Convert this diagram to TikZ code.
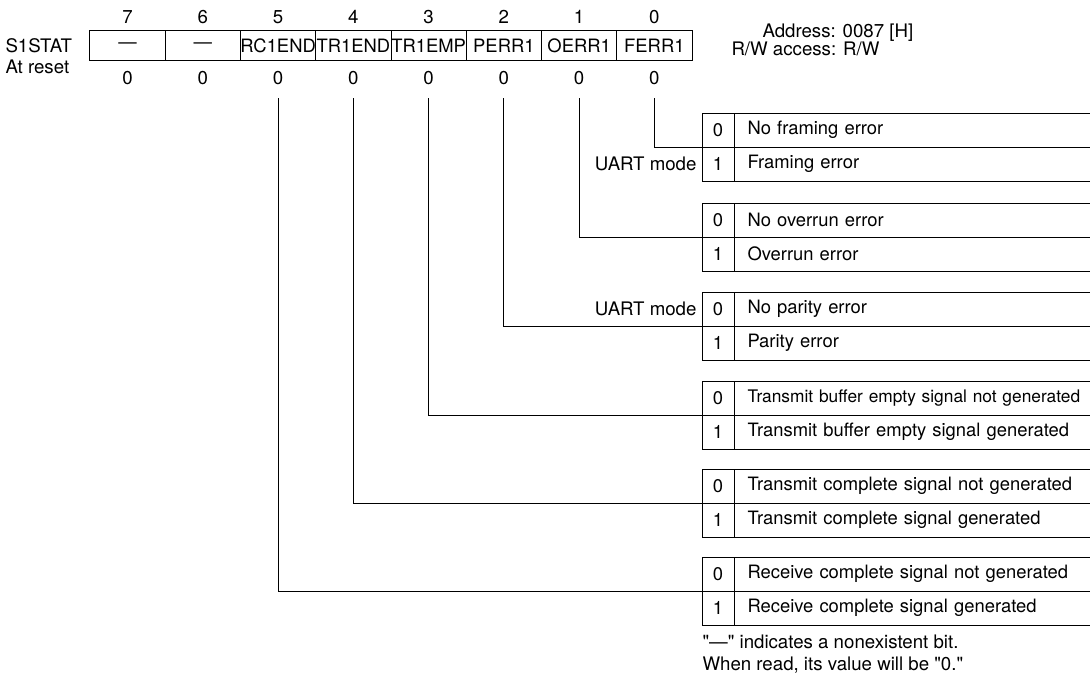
\documentclass[tikz,border=0pt]{standalone}
\usepackage{fontspec}
\setmainfont{TeX Gyre Heros}[Ligatures=TeXOff]
\begin{document}
\begin{tikzpicture}[x=0.75pt,y=-0.75pt,line width=0.75pt,
  txt/.style={inner sep=0pt,font=\fontsize{14}{16}\selectfont},
  regcell/.style={draw,inner sep=0pt,minimum width=56.44pt,minimum height=23pt,
    font=\fontsize{13.8}{16}\selectfont},
  valcell/.style={draw,inner sep=0pt,minimum width=24pt,minimum height=25.5pt,
    font=\fontsize{13.8}{16}\selectfont},
  desccell/.style={draw,anchor=west,inner xsep=9.75pt,inner ysep=0pt,text width=252pt,
    align=left,minimum height=25.5pt,font=\fontsize{13.8}{16}\selectfont},
  link/.style={draw}]
\useasboundingbox (0,0) rectangle (1090,687);

% register name and reset label
\node[txt,anchor=west] (regname) at (5,45.5) {S1STAT};
\node[txt,anchor=west] (resetlbl) at (5,67) {At reset};

% bit cells, bit numbers and reset values
\foreach \b/\name [count=\i from 0] in {7/—,6/—,5/RC1END,4/TR1END,3/TR1EMP,2/PERR1,1/OERR1,0/FERR1}{
  \node[regcell] (c\b) at ({90+75.25*(\i+0.5)},45.5) {\name};
  \node[txt] (n\b) at ({90+75.25*(\i+0.5)},17) {\b};
  \node[txt] (r\b) at ({90+75.25*(\i+0.5)},78) {0};
}

% address and access
\node[txt,anchor=west] (addr) at (762,33) {Address: 0087 [H]};
\node[txt,anchor=west] (rw) at (731,49) {R/W access: R/W};

% bit description tables
\foreach \t/\top/\da/\db in {
  0/113/No framing error/Framing error,
  1/203/No overrun error/Overrun error,
  2/292/No parity error/Parity error,
  4/469/Transmit complete signal not generated/Transmit complete signal generated,
  5/557/Receive complete signal not generated/Receive complete signal generated}{
  \node[valcell] (v\t a) at (718,\top+17) {0};
  \node[valcell] (v\t b) at (718,\top+51) {1};
  \node[desccell] (d\t a) at (734,\top+17) {\da};
  \node[desccell] (d\t b) at (734,\top+51) {\db};
}
\node[valcell] (v3a) at (718,398) {0};
\node[valcell] (v3b) at (718,432) {1};
\node[desccell,font=\fontsize{13}{15}\selectfont] (d3a) at (734,398) {Transmit buffer empty signal not generated};
\node[desccell] (d3b) at (734,432) {Transmit buffer empty signal generated};

% mode notes
\node[txt,anchor=east] (mode0) at (697,164) {UART mode};
\node[txt,anchor=east] (mode2) at (697,309) {UART mode};

% connectors from each bit to its table
\foreach \b in {0,...,5}{
  \draw[link] (r\b) ++(0,20) |- (v\b a.south west);
}

% footnote
\node[txt,anchor=west] (note1) at (702,642) {"—" indicates a nonexistent bit.};
\node[txt,anchor=west] (note2) at (702,665) {When read, its value will be "0."};
\end{tikzpicture}
\end{document}
